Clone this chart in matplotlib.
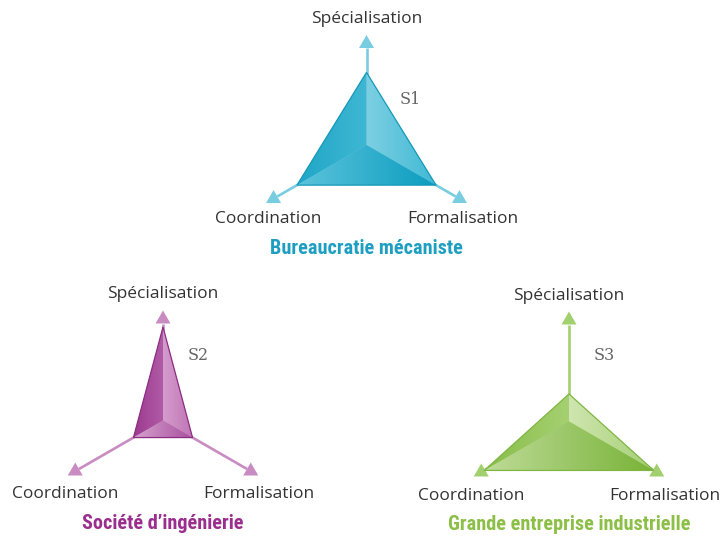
import numpy as np
import matplotlib
matplotlib.use("Agg")
import matplotlib.pyplot as plt
from matplotlib.patches import Polygon
from matplotlib.colors import LinearSegmentedColormap

# ---------------- data ----------------
axis_labels = ["Spécialisation", "Coordination", "Formalisation"]
chart_codes = ["S1", "S2", "S3"]
chart_titles = ["Bureaucratie mécaniste", "Société d’ingénierie", "Grande entreprise industrielle"]
s1_values = [0.66, 0.73, 0.73]
s2_values = [0.85, 0.31, 0.31]
s3_values = [0.25, 0.89, 0.89]
all_values = [s1_values, s2_values, s3_values]

# ---------------- style / layout ----------------
W, H = 721, 537
centers = [(366.5, 145.0), (163.0, 420.5), (569.0, 421.5)]
axis_len = [(110, 116, 116), (110, 110, 110), (110, 110, 110)]
code_offsets = [(43.5, -46), (35, -65.5), (35, -65.5)]
palettes = [
    dict(left=("#1fa6c6", "#3fb7d3"), right=("#7ccfe2", "#40b9d5"),
         bottom=("#5cc3dc", "#0b9dbf"), edge="#1598b8", arrow="#79cde1", title="#1e9fc2"),
    dict(left=("#9c3a90", "#b05aa5"), right=("#d49ccc", "#c074b6"),
         bottom=("#d6a3cf", "#a9509e"), edge="#8c2c82", arrow="#c98cc2", title="#9a2e8e"),
    dict(left=("#86bd48", "#a6d071"), right=("#cfe6b0", "#a5cf73"),
         bottom=("#bedb98", "#79b338"), edge="#7fb642", arrow="#a3d06f", title="#8bbf45"),
]
c30, s30 = np.cos(np.radians(30)), np.sin(np.radians(30))
directions = np.array([[0.0, -1.0], [-c30, s30], [c30, s30]])  # screen coords, y down

fig = plt.figure(figsize=(W / 100, H / 100), dpi=100)
ax = fig.add_axes([0, 0, 1, 1])
ax.axis("off")


def grad_fill(pts, c0, c1, z):
    pts = np.asarray(pts)
    poly = Polygon(pts, closed=True, facecolor="none", edgecolor="none")
    ax.add_patch(poly)
    xmin, ymin = pts.min(0)
    xmax, ymax = pts.max(0)
    g = np.linspace(0, 1, 128)[None, :]
    cmap = LinearSegmentedColormap.from_list("g", [c0, c1])
    im = ax.imshow(g, cmap=cmap, extent=(xmin, xmax, ymax, ymin), origin="upper",
                   aspect="auto", interpolation="bilinear", zorder=z)
    im.set_clip_path(poly)


label_font = dict(family=["Open Sans", "DejaVu Sans"], fontsize=12.5, color="#333333")
title_family = ["Roboto Condensed", "Liberation Sans Narrow", "DejaVu Serif"]

for i, vals in enumerate(all_values):
    cx, cy = centers[i]
    c = np.array([cx, cy])
    lens = axis_len[i]
    pal = palettes[i]

    # axes arrows
    head_len, head_w = 13, 15
    for d, L in zip(directions, lens):
        tip = c + L * d
        base = c + (L - head_len) * d
        perp = np.array([-d[1], d[0]])
        ax.plot([c[0], base[0]], [c[1], base[1]], color=pal["arrow"], lw=1.9,
                solid_capstyle="butt", zorder=1)
        ax.add_patch(Polygon([tip, base + perp * head_w / 2, base - perp * head_w / 2],
                             closed=True, facecolor=pal["arrow"], edgecolor="none", zorder=1))

    # pyramid vertices
    L0 = 110
    v_top = c + vals[0] * L0 * directions[0]
    v_bl = c + vals[1] * L0 * directions[1]
    v_br = c + vals[2] * L0 * directions[2]
    grad_fill([v_top, c, v_bl], *pal["left"], z=2)
    grad_fill([v_top, c, v_br], *pal["right"], z=2)
    grad_fill([v_bl, c, v_br], *pal["bottom"], z=2)
    ax.add_patch(Polygon([v_top, v_bl, v_br], closed=True, facecolor="none",
                         edgecolor=pal["edge"], lw=0.9, zorder=3))

    # labels
    ax.text(cx, cy - 110 - 16, axis_labels[0], ha="center", va="center", **label_font)
    ax.text(cx - 110 * c30 - 3, cy + 110 * s30 + 19, axis_labels[1], ha="center", va="center", **label_font)
    ax.text(cx + 110 * c30 + 1, cy + 110 * s30 + 19, axis_labels[2], ha="center", va="center", **label_font)
    ox, oy = code_offsets[i]
    ax.text(cx + ox, cy + oy, chart_codes[i], ha="center", va="center",
            family=["DejaVu Serif"], fontsize=11.5, color="#666666")
    ax.text(cx, cy + 103, chart_titles[i], ha="center", va="center",
            family=title_family, fontweight="bold",
            fontsize=14.6, color=pal["title"])

ax.set_xlim(0, W)
ax.set_ylim(H, 0)
fig.savefig("out.png", dpi=100)
